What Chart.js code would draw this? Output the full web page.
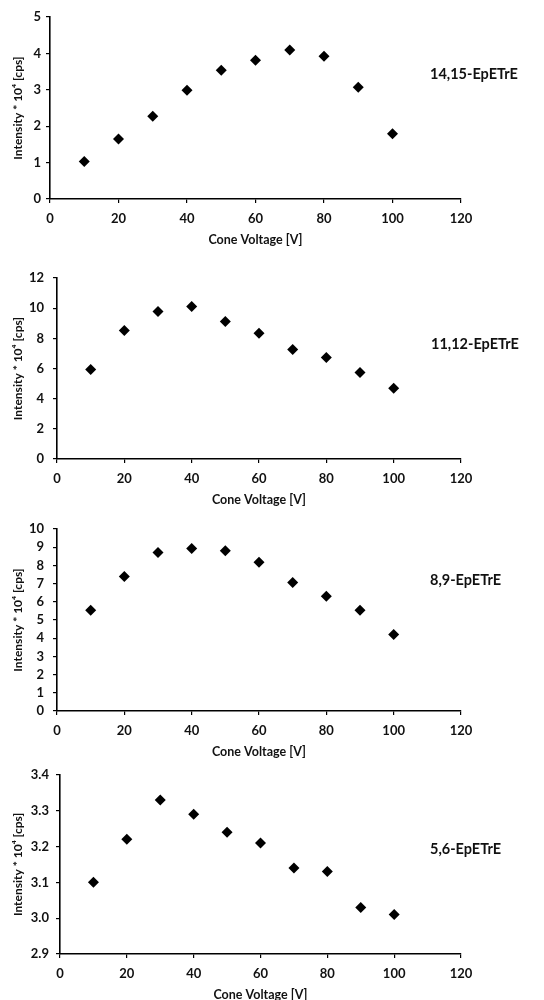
<!DOCTYPE html>
<html>
<head>
<meta charset="utf-8">
<script src="https://cdn.jsdelivr.net/npm/chart.js@4"></script>
<style>
  body { margin: 0; background: #fff; }
  #wrap { position: relative; width: 544px; height: 1000px; }
  canvas { position: absolute; left: 0; }
</style>
</head>
<body>
<div id="wrap">
  <canvas id="c1" width="544" height="252" style="top:0px"></canvas>
  <canvas id="c2" width="544" height="256" style="top:252px"></canvas>
  <canvas id="c3" width="544" height="252" style="top:508px"></canvas>
  <canvas id="c4" width="544" height="240" style="top:760px"></canvas>
</div>
<script>
// cone voltage (x) shared by all four panels
const voltage = [10, 20, 30, 40, 50, 60, 70, 80, 90, 100];

// intensity * 10^4 [cps]
const epetre1415 = [1.03, 1.65, 2.27, 2.99, 3.54, 3.81, 4.09, 3.92, 3.07, 1.79];
const epetre1112 = [5.93, 8.52, 9.78, 10.11, 9.12, 8.34, 7.26, 6.73, 5.74, 4.69];
const epetre89   = [5.53, 7.39, 8.71, 8.93, 8.81, 8.17, 7.06, 6.30, 5.53, 4.21];
const epetre56   = [3.10, 3.22, 3.33, 3.29, 3.24, 3.21, 3.14, 3.13, 3.03, 3.01];

const names = ['14,15-EpETrE', '11,12-EpETrE', '8,9-EpETrE', '5,6-EpETrE'];
const yMins = [0, 0, 0, 2.9];
const yMaxs = [5, 12, 10, 3.4];
const ySteps = [1, 2, 1, 0.1];
const xTicks = [0, 120, 20]; // min, max, step

const FONT = 'Lato, "Open Sans", "Liberation Sans", sans-serif';

const nameLabel = {
  id: 'nameLabel',
  afterDraw(chart, args, opts) {
    const ctx = chart.ctx;
    ctx.save();
    ctx.font = 'bold 14.5px ' + FONT;
    ctx.fillStyle = '#111';
    ctx.textBaseline = 'middle';
    ctx.textAlign = 'left';
    ctx.fillText(opts.text, opts.x, opts.y);
    ctx.restore();
  }
};

// panel layout: chart area top/bottom/left, y tick padding, label position
const panels = [
  { id: 'c1', h: 252, top: 17, bottom: 199, left: 50, pad: 6,  lx: 430, ly: 74 },
  { id: 'c2', h: 256, top: 26, bottom: 207, left: 57, pad: 10, lx: 431, ly: 92 },
  { id: 'c3', h: 252, top: 21, bottom: 203, left: 57, pad: 10, lx: 430, ly: 72 },
  { id: 'c4', h: 240, top: 13, bottom: 194, left: 60, pad: 8,  lx: 430, ly: 89 }
];
const allSeries = [epetre1415, epetre1112, epetre89, epetre56];

panels.forEach(function(p, i) {
  const values = allSeries[i];
  const decimals = ySteps[i] < 1 ? 1 : 0;
  new Chart(document.getElementById(p.id), {
    type: 'scatter',
    data: {
      datasets: [{
        data: voltage.map((v, k) => ({ x: v, y: values[k] })),
        pointStyle: 'rectRot',
        pointRadius: 5.5,
        pointHoverRadius: 5.5,
        backgroundColor: '#000',
        borderColor: '#000',
        borderWidth: 0
      }]
    },
    options: {
      responsive: false,
      animation: false,
      events: [],
      layout: { padding: { top: p.top, right: 83, left: 0, bottom: p.h - p.bottom - 47 } },
      plugins: {
        legend: { display: false },
        tooltip: { enabled: false },
        nameLabel: { text: names[i], x: p.lx, y: p.ly }
      },
      scales: {
        x: {
          type: 'linear',
          min: xTicks[0],
          max: xTicks[1],
          afterFit: function(s) { s.height = 47; },
          ticks: {
            stepSize: xTicks[2],
            autoSkip: false,
            maxRotation: 0,
            padding: 8,
            color: '#111',
            font: { family: FONT, size: 13, weight: 'bold' }
          },
          grid: { drawOnChartArea: false, tickLength: 4, color: '#000', lineWidth: 1.2 },
          border: { color: '#000', width: 1.6 },
          title: {
            display: true,
            text: 'Cone Voltage [V]',
            color: '#111',
            padding: 0,
            font: { family: FONT, size: 12.5, weight: 'bold', lineHeight: 1 }
          }
        },
        y: {
          min: yMins[i],
          max: yMaxs[i],
          afterFit: function(s) { s.width = p.left; },
          ticks: {
            stepSize: ySteps[i],
            autoSkip: false,
            padding: p.pad - 1,
            color: '#111',
            font: { family: FONT, size: 13, weight: 'bold' },
            callback: function(v) { return Number(v).toFixed(decimals); }
          },
          grid: { drawOnChartArea: false, tickLength: 4, color: '#000', lineWidth: 1.2 },
          border: { color: '#000', width: 1.6 },
          title: {
            display: true,
            text: 'Intensity * 10\u2074 [cps]',
            color: '#111',
            padding: { top: 12, bottom: 0 },
            font: { family: FONT, size: 12, weight: 'bold', lineHeight: 1 }
          }
        }
      }
    },
    plugins: [nameLabel]
  });
});
</script>
</body>
</html>
